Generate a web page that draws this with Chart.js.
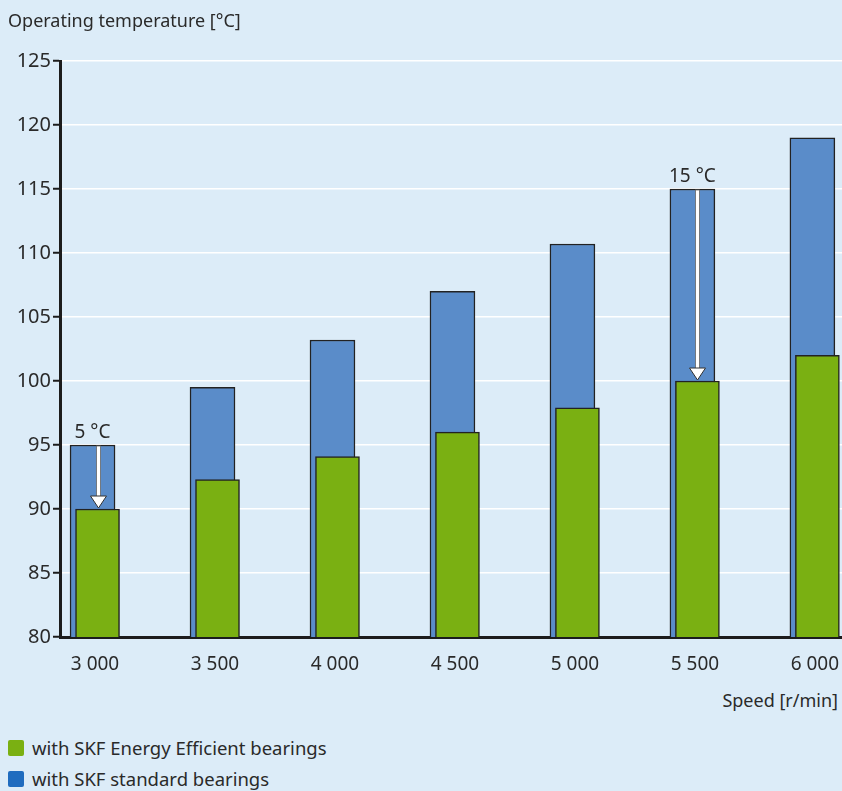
<!DOCTYPE html>
<html>
<head>
<meta charset="utf-8">
<script src="https://cdn.jsdelivr.net/npm/chart.js@4"></script>
<style>
  html, body { margin: 0; padding: 0; }
  body { width: 842px; height: 791px; background: #dcecf8; position: relative; overflow: hidden;
         font-family: "Noto Sans", sans-serif; color: #2a2a2a; }
  #wrap { position: absolute; left: 0; top: 0; width: 842px; height: 680px; }
  .title { position: absolute; left: 8px; top: 8px; font-size: 18px; }
  .xtitle { position: absolute; right: 4px; top: 688px; font-size: 18px; }
  .legend { position: absolute; left: 8px; top: 732px; font-size: 18.5px; }
  .legend div { height: 31px; display: flex; align-items: center; }
  .legend span { display: inline-block; width: 16px; height: 16px; border-radius: 2px; margin-right: 8px; }
</style>
</head>
<body>
<div id="wrap"><canvas id="chart"></canvas></div>
<div class="title">Operating temperature [°C]</div>
<div class="xtitle">Speed [r/min]</div>
<div class="legend">
  <div><span style="background:#7ab012"></span>with SKF Energy Efficient bearings</div>
  <div><span style="background:#1f6cbf"></span>with SKF standard bearings</div>
</div>
<script>
  // ---------- data ----------
  const speeds = [3000, 3500, 4000, 4500, 5000, 5500, 6000];
  const standardTemps = [95, 99.5, 103.2, 107, 110.7, 115, 119];
  const efficientTemps = [90, 92.3, 94.1, 96, 97.9, 100, 102];
  const yTicks = [80, 85, 90, 95, 100, 105, 110, 115, 120, 125];
  const markedSpeeds = [3000, 5500];

  const fmt = v => String(v).replace(/\B(?=(\d{3})+(?!\d))/g, ' ');

  // x range of the plot; bars sit on hidden axes nudged ~2.5px left (blue) / right (green)
  const xMin = 2854, xMax = 6113, nudge = 10.4;

  // white arrow + difference label on marked speeds
  const diffArrows = {
    id: 'diffArrows',
    afterDatasetsDraw(chart) {
      const ctx = chart.ctx;
      const green = chart.getDatasetMeta(0).data;
      const blue = chart.getDatasetMeta(1).data;
      markedSpeeds.forEach(s => {
        const i = speeds.indexOf(s);
        const x = Math.round(green[i].x) + 0.5;
        const top = blue[i].y, bottom = green[i].y;
        const headH = 13, headW = 16, shaftW = 4;
        ctx.save();
        ctx.fillStyle = '#fff';
        ctx.strokeStyle = '#666';
        ctx.lineWidth = 0.8;
        ctx.fillRect(x - shaftW / 2, top + 1, shaftW, bottom - headH - top);
        ctx.strokeRect(x - shaftW / 2, top + 1, shaftW, bottom - headH - top);
        ctx.beginPath();
        ctx.moveTo(x - headW / 2, bottom - headH);
        ctx.lineTo(x + headW / 2, bottom - headH);
        ctx.lineTo(x, bottom - 1);
        ctx.closePath();
        ctx.fill();
        ctx.strokeStyle = '#333';
        ctx.lineWidth = 1;
        ctx.stroke();
        ctx.fillStyle = '#2a2a2a';
        ctx.font = '19px "Noto Sans"';
        ctx.textAlign = 'center';
        ctx.textBaseline = 'alphabetic';
        const d = Math.round(standardTemps[i] - efficientTemps[i]);
        ctx.fillText(d + ' °C', blue[i].x, top - 7);
        ctx.restore();
      });
    }
  };

  let chart = new Chart(document.getElementById('chart').getContext('2d'), {
    type: 'bar',
    data: {
      datasets: [{
        label: 'with SKF Energy Efficient bearings',
        data: speeds.map((s, i) => ({ x: s, y: efficientTemps[i] })),
        xAxisID: 'xg',
        grouped: false,
        backgroundColor: '#7ab012',
        borderColor: '#222',
        borderWidth: 1.5,
        barThickness: 44
      }, {
        label: 'with SKF standard bearings',
        data: speeds.map((s, i) => ({ x: s, y: standardTemps[i] })),
        xAxisID: 'xb',
        grouped: false,
        backgroundColor: '#5a8cc9',
        borderColor: '#222',
        borderWidth: 1.5,
        barThickness: 45
      }]
    },
    options: {
      responsive: true,
      maintainAspectRatio: false,
      animation: false,
      layout: { padding: { top: 61, left: 0, right: 0, bottom: 0 } },
      plugins: { legend: { display: false }, tooltip: { enabled: false } },
      scales: {
        x: {
          type: 'linear',
          offset: false,
          min: xMin,
          max: xMax,
          afterBuildTicks: s => { s.ticks = speeds.map(v => ({ value: v })); },
          afterFit: s => { s.height = 43; s.paddingLeft = 0; s.paddingRight = 0; },
          ticks: { callback: v => fmt(v), color: '#2a2a2a', font: { family: 'Noto Sans', size: 19 }, padding: 8, maxRotation: 0, autoSkip: false },
          grid: { display: false },
          border: { color: '#1c1c1c', width: 3 }
        },
        xb: { type: 'linear', display: false, offset: false, min: xMin + nudge, max: xMax + nudge },
        xg: { type: 'linear', display: false, offset: false, min: xMin - nudge, max: xMax - nudge },
        y: {
          min: 80,
          max: 125,
          afterBuildTicks: s => { s.ticks = yTicks.map(v => ({ value: v })); },
          afterFit: s => { s.width = 60; },
          ticks: { color: '#2a2a2a', font: { family: 'Noto Sans', size: 20 }, padding: 2 },
          grid: { color: '#ffffff', lineWidth: 1.5, tickColor: '#1c1c1c', tickLength: 7, tickWidth: 2 },
          border: { color: '#1c1c1c', width: 3 }
        }
      }
    },
    plugins: [diffArrows]
  });
</script>
</body>
</html>
